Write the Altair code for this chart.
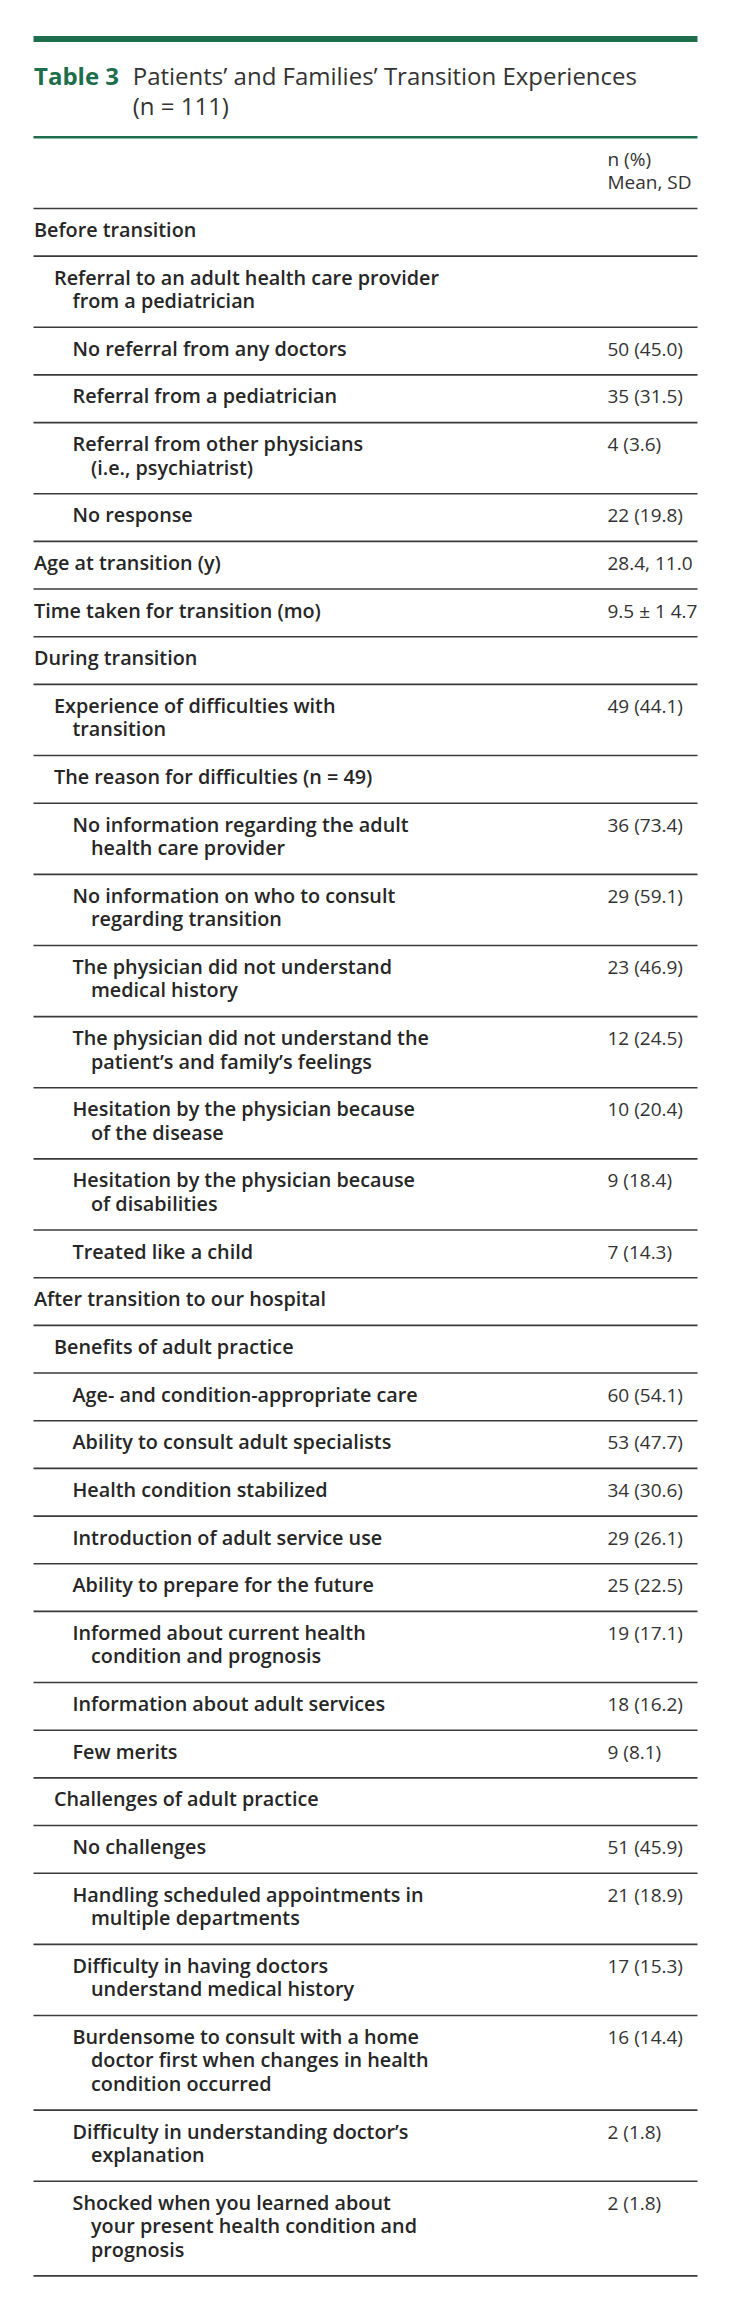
import altair as alt
import pandas as pd

# ------------------------------------------------------------------ data
title_label = "Table 3"
title_lines = ["Patients’ and Families’ Transition Experiences", "(n = 111)"]
header_lines = ["n (%)", "Mean, SD"]

row_labels = [
    ["Before transition"],
    ["Referral to an adult health care provider", "from a pediatrician"],
    ["No referral from any doctors"],
    ["Referral from a pediatrician"],
    ["Referral from other physicians", "(i.e., psychiatrist)"],
    ["No response"],
    ["Age at transition (y)"],
    ["Time taken for transition (mo)"],
    ["During transition"],
    ["Experience of difficulties with", "transition"],
    ["The reason for difficulties (n = 49)"],
    ["No information regarding the adult", "health care provider"],
    ["No information on who to consult", "regarding transition"],
    ["The physician did not understand", "medical history"],
    ["The physician did not understand the", "patient’s and family’s feelings"],
    ["Hesitation by the physician because", "of the disease"],
    ["Hesitation by the physician because", "of disabilities"],
    ["Treated like a child"],
    ["After transition to our hospital"],
    ["Benefits of adult practice"],
    ["Age- and condition-appropriate care"],
    ["Ability to consult adult specialists"],
    ["Health condition stabilized"],
    ["Introduction of adult service use"],
    ["Ability to prepare for the future"],
    ["Informed about current health", "condition and prognosis"],
    ["Information about adult services"],
    ["Few merits"],
    ["Challenges of adult practice"],
    ["No challenges"],
    ["Handling scheduled appointments in", "multiple departments"],
    ["Difficulty in having doctors", "understand medical history"],
    ["Burdensome to consult with a home", "doctor first when changes in health", "condition occurred"],
    ["Difficulty in understanding doctor’s", "explanation"],
    ["Shocked when you learned about", "your present health condition and", "prognosis"],
]
row_levels = [0, 1, 2, 2, 2, 2, 0, 0, 0, 1, 1, 2, 2, 2, 2, 2, 2, 2, 0, 1,
              2, 2, 2, 2, 2, 2, 2, 2, 1, 2, 2, 2, 2, 2, 2]
row_values = ["", "", "50 (45.0)", "35 (31.5)", "4 (3.6)", "22 (19.8)",
              "28.4, 11.0", "9.5 ± 1 4.7", "", "49 (44.1)", "",
              "36 (73.4)", "29 (59.1)", "23 (46.9)", "12 (24.5)", "10 (20.4)",
              "9 (18.4)", "7 (14.3)", "", "", "60 (54.1)", "53 (47.7)",
              "34 (30.6)", "29 (26.1)", "25 (22.5)", "19 (17.1)", "18 (16.2)",
              "9 (8.1)", "", "51 (45.9)", "21 (18.9)", "17 (15.3)",
              "16 (14.4)", "2 (1.8)", "2 (1.8)"]

# ------------------------------------------------------------------ layout
GREEN = "#1c6e4c"
TEXT = "#262626"
RULE = "#3a3a3a"
FONT = "Open Sans"

LEFT, RIGHT = 33.5, 697.5
INDENT = [34, 54, 72.5]
CONT = 18.5
VAL_X = 607.5
PAD, LINE, BASE = 24.2, 23.47, 28.5
HEADER_TOP = 137.3

label_rows, value_rows, rule_rows = [], [], []

for i, t in enumerate(header_lines):
    value_rows.append({"x": VAL_X, "y": HEADER_TOP + BASE + i * LINE, "t": t})
top = HEADER_TOP + PAD + LINE * len(header_lines)
rule_rows.append({"x": LEFT, "x2": RIGHT, "y": top})

for lines, lev, val in zip(row_labels, row_levels, row_values):
    for i, t in enumerate(lines):
        label_rows.append({"x": INDENT[lev] + (CONT if i > 0 else 0),
                           "y": top + BASE + i * LINE, "t": t})
    if val:
        value_rows.append({"x": VAL_X, "y": top + BASE, "t": val})
    top = top + PAD + LINE * len(lines)
    rule_rows.append({"x": LEFT, "x2": RIGHT, "y": top})

labels_df = pd.DataFrame(label_rows)
values_df = pd.DataFrame(value_rows)
rules_df = pd.DataFrame(rule_rows)
green_line_df = pd.DataFrame([{"x": LEFT, "x2": RIGHT, "y": HEADER_TOP}])
bar_df = pd.DataFrame([{"x": LEFT, "x2": RIGHT, "y": 36, "y2": 42}])
tlabel_df = pd.DataFrame([{"x": 34, "y": 85, "t": title_label}])
ttext_df = pd.DataFrame([{"x": 132.7, "y": 85 + i * 30, "t": t}
                         for i, t in enumerate(title_lines)])

W, H = 714, 2290
xs = alt.Scale(domain=[8, 8 + W], range=[0, W])
ys = alt.Scale(domain=[8, 8 + H], range=[0, H])


def X(f="x"):
    return alt.X(f"{f}:Q", scale=xs, axis=None)


def Y(f="y"):
    return alt.Y(f"{f}:Q", scale=ys, axis=None)


bar = alt.Chart(bar_df).mark_rect(color=GREEN).encode(
    x=X(), x2="x2:Q", y=Y(), y2="y2:Q")
green_line = alt.Chart(green_line_df).mark_rule(color=GREEN, strokeWidth=2.4).encode(
    x=X(), x2="x2:Q", y=Y())
rules = alt.Chart(rules_df).mark_rule(color=RULE, strokeWidth=1.6).encode(
    x=X(), x2="x2:Q", y=Y())

tlabel = alt.Chart(tlabel_df).mark_text(
    align="left", baseline="alphabetic", font=FONT, fontSize=24,
    fontWeight="bold", color=GREEN).encode(x=X(), y=Y(), text="t:N")
ttext = alt.Chart(ttext_df).mark_text(
    align="left", baseline="alphabetic", font=FONT, fontSize=24,
    fontWeight="normal", color="#333333").encode(x=X(), y=Y(), text="t:N")
labels = alt.Chart(labels_df).mark_text(
    align="left", baseline="alphabetic", font=FONT, fontSize=19.8,
    fontWeight=600, color=TEXT).encode(x=X(), y=Y(), text="t:N")
values = alt.Chart(values_df).mark_text(
    align="left", baseline="alphabetic", font=FONT, fontSize=19,
    fontWeight="normal", color="#333333").encode(x=X(), y=Y(), text="t:N")

chart = alt.layer(bar, green_line, rules, tlabel, ttext, labels, values).properties(
    width=W, height=H,
    autosize=alt.AutoSizeParams(type="none"),
    padding=0,
).configure_view(stroke=None)

chart.save("out.html", embed_options={"renderer": "svg", "actions": False})
